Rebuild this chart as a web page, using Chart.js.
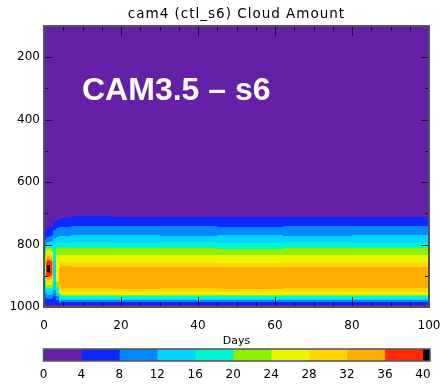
<!DOCTYPE html>
<html><head><meta charset="utf-8">
<script src="https://cdn.jsdelivr.net/npm/chart.js@4/dist/chart.umd.min.js"></script>
<style>
html,body{margin:0;padding:0;background:#fff;}
#wrap{position:relative;width:443px;height:387px;overflow:hidden;}
#main{position:absolute;left:0;top:0;}
#bar{position:absolute;left:0;top:345px;}
</style></head><body>
<div id="wrap"><canvas id="main" width="443" height="387"></canvas><canvas id="bar" width="443" height="42"></canvas></div>
<script>
// ---- data ----
const chartTitle = 'cam4 (ctl_s6) Cloud Amount';
const overlayLabel = 'CAM3.5 \u2013 s6';
const pressureTop = 100, pressureBottom = 1000;
const xTickVals = [0, 20, 40, 60, 80, 100];
const xMinorVals = [5,10,15,25,30,35,45,50,55,65,70,75,85,90,95];
const yTickVals = [200, 400, 600, 800, 1000];
const yMinorVals = [300, 500, 700, 900];
// time-column edges (days)
const dayEdges = [0, 0.4, 0.8, 1.2, 1.6, 2.0, 2.4, 3.2, 3.8, 4.5, 7, 18, 30, 45, 62, 80, 100];
// each column: [cloud amount %, pressure (hPa) at bottom of layer], from top to surface
const col0 = [[2,755],[6,785],[10,800],[14,820],[18,835],[22,915],[18,935],[14,955],[10,972],[6,992],[2,1000]];
const col1 = [[2,750],[6,778],[10,795],[14,805],[18,812],[22,820],[26,835],[30,845],[34,855],[38,900],[34,910],[30,918],[26,928],[22,938],[18,948],[14,958],[10,972],[6,992],[2,1000]];
const col2 = [[2,748],[6,775],[10,792],[14,802],[18,810],[22,818],[26,828],[30,838],[34,848],[38,866],[42,888],[38,905],[34,912],[30,920],[26,930],[22,940],[18,950],[14,960],[10,974],[6,992],[2,1000]];
const col3 = [[2,748],[6,775],[10,792],[14,802],[18,810],[22,818],[26,828],[30,838],[34,848],[38,864],[42,890],[38,905],[34,912],[30,920],[26,930],[22,940],[18,950],[14,960],[10,974],[6,992],[2,1000]];
const col4 = [[2,745],[6,772],[10,790],[14,802],[18,810],[22,820],[26,832],[30,842],[34,852],[38,900],[34,910],[30,918],[26,928],[22,938],[18,948],[14,960],[10,974],[6,992],[2,1000]];
const col5 = [[2,740],[6,768],[10,788],[14,805],[18,815],[22,825],[26,840],[30,855],[34,895],[30,908],[26,920],[22,935],[18,945],[14,958],[10,972],[6,992],[2,1000]];
const col6 = [[2,728],[6,752],[10,780],[14,800],[18,850],[14,945],[10,965],[6,990],[2,1000]];
const col7 = [[2,722],[6,748],[10,775],[14,795],[18,812],[22,835],[26,920],[22,940],[18,955],[14,965],[10,978],[6,993],[2,1000]];
const col8 = [[2,718],[6,745],[10,772],[14,795],[18,812],[22,832],[26,852],[30,875],[34,925],[30,945],[26,955],[22,963],[18,972],[14,980],[10,987],[6,996],[2,1000]];
const col9 = [[2,715],[6,743],[10,772],[14,794],[18,812],[22,833],[26,855],[30,870],[34,940],[30,953],[26,960],[22,966],[18,973],[14,979],[10,985],[6,995],[2,1000]];
const col10 = [[2,710],[6,741],[10,768],[14,792],[18,812],[22,834],[26,857],[30,872],[34,940],[30,953],[26,960],[22,966],[18,973],[14,979],[10,985],[6,995],[2,1000]];
const col11 = [[2,711],[6,742],[10,770],[14,794],[18,811],[22,834],[26,856],[30,872],[34,941],[30,953],[26,960],[22,966],[18,973],[14,979],[10,985],[6,995],[2,1000]];
const col12 = [[2,712],[6,741],[10,771],[14,792],[18,812],[22,835],[26,857],[30,873],[34,940],[30,952],[26,960],[22,966],[18,973],[14,979],[10,985],[6,995],[2,1000]];
const col13 = [[2,713],[6,743],[10,769],[14,794],[18,813],[22,834],[26,858],[30,873],[34,941],[30,953],[26,960],[22,966],[18,973],[14,979],[10,985],[6,995],[2,1000]];
const col14 = [[2,713],[6,742],[10,771],[14,793],[18,812],[22,835],[26,857],[30,872],[34,940],[30,953],[26,960],[22,966],[18,973],[14,979],[10,985],[6,995],[2,1000]];
const col15 = [[2,713],[6,742],[10,770],[14,794],[18,812],[22,834],[26,857],[30,873],[34,940],[30,953],[26,960],[22,966],[18,973],[14,979],[10,985],[6,995],[2,1000]];
const columns = [col0,col1,col2,col3,col4,col5,col6,col7,col8,col9,col10,col11,col12,col13,col14,col15];
// colour levels
const levelTicks = [0,4,8,12,16,20,24,28,32,36,40];
const levelColors = ['#6421a8','#0c28ff','#0088ff','#00d4ff','#00f5d2','#8cf000','#ebf500','#ffd600','#ffae00','#ff2a00','#000000'];
const overflowEnd = 40.75;

function colorFor(v){ return levelColors[Math.min(levelColors.length-1, Math.floor(v/4))]; }

const cells = [];
columns.forEach((col, i) => {
  let top = pressureTop;
  col.forEach(([v, bottom]) => {
    cells.push({x:(dayEdges[i]+dayEdges[i+1])/2, y:(top+bottom)/2, x0:dayEdges[i], x1:dayEdges[i+1], y0:top, y1:bottom, v});
    top = bottom;
  });
});

const FONT = '"DejaVu Sans", sans-serif';
const noPad = s => { s.paddingLeft = 0; s.paddingRight = 0; };

const cellPlugin = {
  id:'cells',
  beforeDatasetsDraw(chart){
    const {ctx, chartArea:a, scales:{x,y}} = chart;
    ctx.save();
    ctx.beginPath(); ctx.rect(a.left, a.top, a.width, a.height); ctx.clip();
    chart.data.datasets[0].data.forEach(c => {
      const px0 = Math.round(x.getPixelForValue(c.x0)), px1 = Math.round(x.getPixelForValue(c.x1));
      const pa = Math.round(y.getPixelForValue(c.y0)), pb = Math.round(y.getPixelForValue(c.y1));
      ctx.fillStyle = colorFor(c.v);
      ctx.fillRect(px0, Math.min(pa,pb), px1-px0, Math.abs(pb-pa));
    });
    ctx.restore();
  },
  afterDatasetsDraw(chart){
    const {ctx, chartArea:a, scales:{x,y}} = chart;
    ctx.save();
    ctx.strokeStyle = '#111'; ctx.lineWidth = 1;
    const tick = (x1,y1,x2,y2)=>{ctx.beginPath();ctx.moveTo(x1,y1);ctx.lineTo(x2,y2);ctx.stroke();};
    xTickVals.forEach(v=>{const px=Math.round(x.getPixelForValue(v))+0.5; tick(px,a.top,px,a.top+10); tick(px,a.bottom,px,a.bottom-10);});
    xMinorVals.forEach(v=>{const px=Math.round(x.getPixelForValue(v))+0.5; tick(px,a.top,px,a.top+5); tick(px,a.bottom,px,a.bottom-5);});
    yTickVals.forEach(v=>{const py=Math.round(y.getPixelForValue(v))+0.5; tick(a.left,py,a.left+8,py); tick(a.right,py,a.right-8,py);});
    yMinorVals.forEach(v=>{const py=Math.round(y.getPixelForValue(v))+0.5; tick(a.left,py,a.left+4,py); tick(a.right,py,a.right-4,py);});
    ctx.strokeStyle = '#555'; ctx.lineWidth = 2;
    ctx.strokeRect(a.left, a.top, a.width, a.height);
    // title
    ctx.fillStyle = '#000';
    ctx.font = '13.5px ' + FONT;
    ctx.textAlign = 'center'; ctx.textBaseline = 'middle';
    try { ctx.letterSpacing = '1px'; } catch(e){}
    ctx.fillText(chartTitle, (a.left+a.right)/2, 14);
    try { ctx.letterSpacing = '0px'; } catch(e){}
    // overlay label
    ctx.fillStyle = '#fff';
    ctx.font = 'bold 32px "Liberation Sans", Arial, sans-serif';
    ctx.textAlign = 'left'; ctx.textBaseline = 'alphabetic';
    ctx.fillText(overlayLabel, 82, 100);
    ctx.restore();
  }
};

new Chart(document.getElementById('main'), {
  type:'scatter',
  data:{datasets:[{data:cells, pointRadius:0, pointHoverRadius:0, showLine:false}]},
  options:{
    responsive:false, devicePixelRatio:1, animation:false,
    layout:{padding:{top:26, right:14, left:0, bottom:0}},
    plugins:{legend:{display:false}, tooltip:{enabled:false}, title:{display:false}},
    scales:{
      x:{type:'linear', min:0, max:100,
        afterBuildTicks:s=>{s.ticks = xTickVals.map(v=>({value:v}));},
        afterFit:s=>{s.height = 80; noPad(s);},
        grid:{display:false, drawTicks:false}, border:{display:false},
        ticks:{padding:12, color:'#000', font:{family:FONT, size:12}, maxRotation:0, autoSkip:false, callback:v=>String(v)},
        title:{display:true, text:'Days', color:'#000', font:{family:FONT, size:11}, padding:{top:0, bottom:39.4}}
      },
      y:{type:'linear', min:pressureTop, max:pressureBottom, reverse:true,
        afterBuildTicks:s=>{s.ticks = yTickVals.map(v=>({value:v}));},
        afterFit:s=>{s.width = 44;},
        grid:{display:false, drawTicks:false}, border:{display:false},
        ticks:{padding:4, color:'#000', font:{family:FONT, size:12}, autoSkip:false, callback:v=>String(v)}
      }
    }
  },
  plugins:[cellPlugin]
});

// ---- colour bar ----
const levelEdges = levelTicks.concat([overflowEnd]);
const barFrame = {
  id:'barFrame',
  afterDatasetsDraw(chart){
    const {ctx, chartArea:a} = chart;
    ctx.save(); ctx.strokeStyle = '#555'; ctx.lineWidth = 1.5;
    ctx.strokeRect(a.left, a.top, a.width, a.height); ctx.restore();
  }
};
new Chart(document.getElementById('bar'), {
  type:'bar',
  data:{labels:[''], datasets: levelColors.map((c,i)=>({data:[[levelEdges[i], levelEdges[i+1]]], backgroundColor:c, borderWidth:0, barPercentage:1, categoryPercentage:1, grouped:false}))},
  options:{
    indexAxis:'y', responsive:false, devicePixelRatio:1, animation:false,
    layout:{padding:{top:4, left:43.5, right:13, bottom:0}},
    plugins:{legend:{display:false}, tooltip:{enabled:false}},
    scales:{
      x:{type:'linear', min:0, max:overflowEnd,
        afterBuildTicks:s=>{s.ticks = levelTicks.map(v=>({value:v}));},
        afterFit:s=>{s.height = 26; noPad(s);},
        grid:{display:false, drawTicks:false}, border:{display:false},
        ticks:{padding:7, color:'#000', font:{family:FONT, size:12}, maxRotation:0, autoSkip:false}
      },
      y:{display:false}
    }
  },
  plugins:[barFrame]
});
</script></body></html>
